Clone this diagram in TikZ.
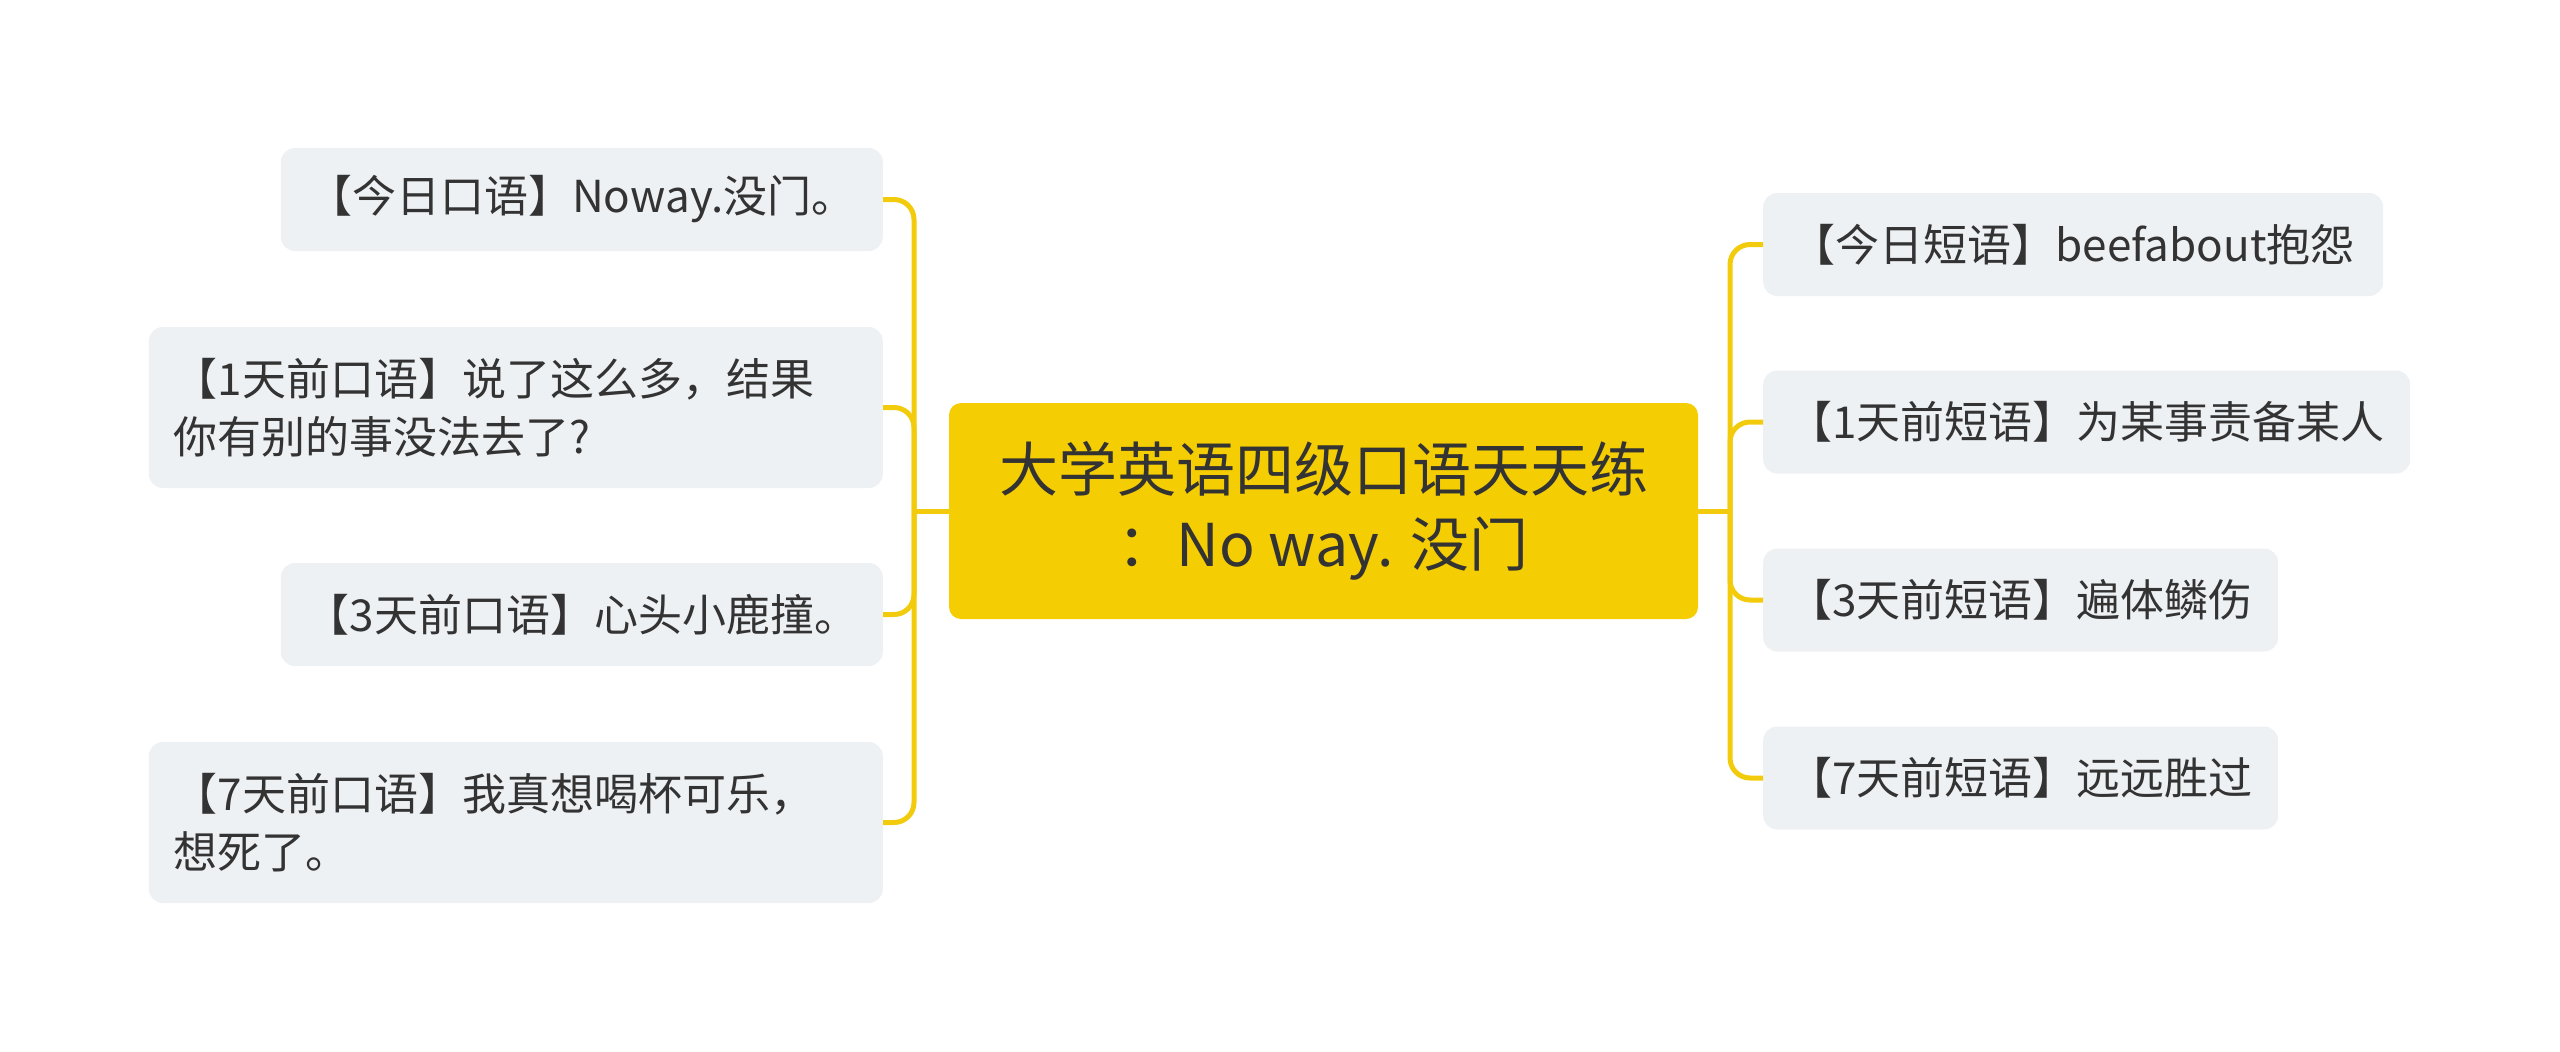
\documentclass[tikz,border=0pt]{standalone}
\usepackage{fontspec}
\setmainfont{Noto Sans CJK SC}
\definecolor{rootbg}{HTML}{F5CD03}
\definecolor{leafbg}{HTML}{EEF1F4}
\definecolor{conn}{HTML}{F2CC0C}
\definecolor{txt}{HTML}{333333}
\tikzset{
  rootbox/.style={fill=rootbg, rounded corners=12pt, minimum width=749pt, minimum height=216pt,
    inner sep=0pt, align=center, text=txt, font=\fontsize{59}{75}\selectfont},
  leafbox/.style={fill=leafbg, rounded corners=14pt, inner ysep=0pt, text=txt,
    font=\fontsize{44}{58}\selectfont},
  oneline/.style={leafbox, inner xsep=0pt, minimum height=103pt, align=center},
  twoline/.style={leafbox, inner xsep=25pt, minimum height=161pt, text width=684pt, align=left},
  connline/.style={draw=conn, line width=5pt, rounded corners=20pt}
}
\begin{document}
\begin{tikzpicture}[x=1pt,y=-1pt]
\useasboundingbox (0,0) rectangle (2560,1052);

\node[rootbox] (root) at (1323.5,511) {大学英语四级口语天天练\\：No way. 没门};

\node[oneline, anchor=east, minimum width=602pt] (l1) at (883,199.5) {【今日口语】Noway.没门。};
\node[twoline, anchor=east] (l2) at (883,407.5) {【1天前口语】说了这么多，结果\\你有别的事没法去了?};
\node[oneline, anchor=east, minimum width=602pt] (l3) at (883,614.5) {【3天前口语】心头小鹿撞。};
\node[twoline, anchor=east] (l4) at (883,822.5) {【7天前口语】我真想喝杯可乐，\\想死了。};

\node[oneline, anchor=west, minimum width=620pt] (r1) at (1763,244.5) {【今日短语】beefabout抱怨};
\node[oneline, anchor=west, minimum width=647pt] (r2) at (1763,422) {【1天前短语】为某事责备某人};
\node[oneline, anchor=west, minimum width=515pt] (r3) at (1763,600) {【3天前短语】遍体鳞伤};
\node[oneline, anchor=west, minimum width=515pt] (r4) at (1763,778) {【7天前短语】远远胜过};

\coordinate (jl) at (914,511);
\coordinate (jr) at (1730,511);
\draw[connline] (root.west) -- (jl);
\draw[connline] (root.east) -- (jr);
\foreach \n in {l1,l2,l3,l4} \draw[connline] (jl) |- (\n.east);
\foreach \n in {r1,r2,r3,r4} \draw[connline] (jr) |- (\n.west);
\end{tikzpicture}
\end{document}
